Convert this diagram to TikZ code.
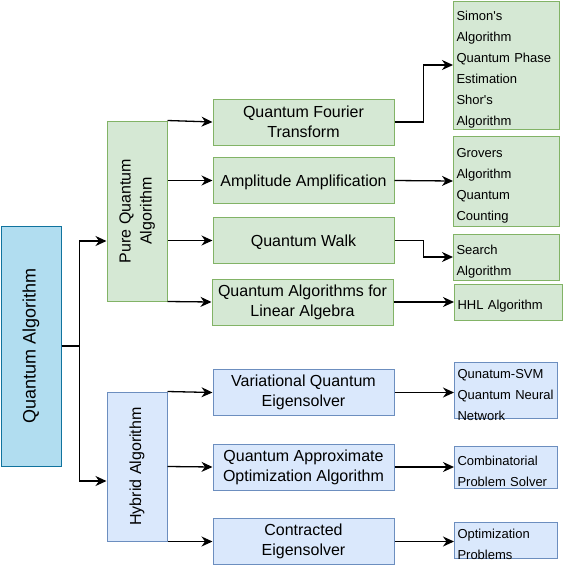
\documentclass[tikz,border=0pt]{standalone}
\usepackage{fontspec}
\setmainfont{Liberation Sans}
\usepackage{graphicx}
\usetikzlibrary{arrows.meta}
\definecolor{rootfill}{HTML}{B1DDF0}
\definecolor{rootline}{HTML}{10739E}
\definecolor{greenfill}{HTML}{D5E8D4}
\definecolor{greenline}{HTML}{82B366}
\definecolor{bluefill}{HTML}{DAE8FC}
\definecolor{blueline}{HTML}{6C8EBF}
\newcommand{\uprot}[1]{\rotatebox{90}{\begin{tabular}{@{}c@{}}#1\end{tabular}}}
\tikzset{
    root/.style={rectangle, minimum width=60pt, minimum height=240pt, inner sep=0pt, draw=rootline, fill=rootfill, line width=1pt, font=\fontsize{18}{22}\selectfont},
    family/.style={rectangle, minimum width=60pt, inner sep=0pt, line width=1pt, font=\fontsize{16}{21}\selectfont},
    method/.style={rectangle, minimum width=181pt, minimum height=46pt, align=center, inner xsep=0pt, inner ysep=-2pt, line width=1pt, font=\fontsize{16}{20}\selectfont, execute at begin node={\rule{0pt}{16pt}}},
    leaf/.style={rectangle, anchor=west, align=left, inner xsep=3pt, inner ysep=-4.5pt, line width=1pt, font=\fontsize{13}{21}\selectfont, execute at begin node={\rule{0pt}{18.5pt}}},
    greenpart/.style={draw=greenline, fill=greenfill},
    bluepart/.style={draw=blueline, fill=bluefill},
    arrow/.style={line width=1.3pt, -{Stealth[length=11pt, width=10pt, inset=3.5pt]}}
}
\begin{document}
\begin{tikzpicture}[x=1pt, y=-1pt]
    \useasboundingbox (0,0) rectangle (563,566);
    \node (main) [root] at (31,346) {\rotatebox{90}{Quantum Algorithm}};
    \node (pure) [family, greenpart, minimum height=180pt] at (137,211) {\uprot{Pure Quantum\\Algorithm}};
    \node (hybrid) [family, bluepart, minimum height=149pt] at (137,466.5) {\uprot{Hybrid Algorithm}};

    \node (qft) [method, greenpart] at (303.5,122) {Quantum Fourier\\Transform};
    \node (amp) [method, greenpart] at (303.5,180.5) {Amplitude Amplification};
    \node (walk) [method, greenpart] at (303.5,240.5) {Quantum Walk};
    \node (linalg) [method, greenpart] at (302.5,302) {Quantum Algorithms for\\Linear Algebra};
    \node (vqe) [method, bluepart] at (303.5,392.5) {Variational Quantum\\Eigensolver};
    \node (qaoa) [method, bluepart] at (303.5,467) {Quantum Approximate\\Optimization Algorithm};
    \node (ces) [method, bluepart] at (303.5,541.5) {Contracted\\Eigensolver};

    \node (simon) [leaf, greenpart, text width=100pt, minimum height=128pt] at (453,65) {Simon\textquotesingle s\\Algorithm\\Quantum Phase\\Estimation\\Shor\textquotesingle s\\Algorithm};
    \node (grovers) [leaf, greenpart, text width=100pt, minimum height=90pt] at (453,181) {Grovers\\Algorithm\\Quantum\\Counting};
    \node (search) [leaf, greenpart, text width=100pt, minimum height=46pt] at (453,257) {Search\\Algorithm};
    \node (hhl) [leaf, greenpart, text width=102pt, minimum height=36pt] at (454,302) {HHL Algorithm};
    \node (svm) [leaf, bluepart, text width=97pt, minimum height=56pt] at (454,390) {Qunatum-SVM\\Quantum Neural\\Network};
    \node (comb) [leaf, bluepart, text width=97pt, minimum height=42pt] at (454,467) {Combinatorial\\Problem Solver};
    \node (optim) [leaf, bluepart, text width=97pt, minimum height=36pt] at (454,540) {Optimization\\Problems};

    \draw [arrow] (main.east) -- ++(18,0) |- ([yshift=-30pt]pure.west);
    \draw [arrow] (main.east) -- ++(18,0) |- ([yshift=-14.5pt]hybrid.west);

    \draw [arrow] (pure.north east) -- (qft.west);
    \draw [arrow] (amp.west -| pure.east) -- (amp.west);
    \draw [arrow] (walk.west -| pure.east) -- (walk.west);
    \draw [arrow] (pure.south east) -- (linalg.west);
    \draw [arrow] (hybrid.north east) -- (vqe.west);
    \draw [arrow] (hybrid.east) -- (qaoa.west);
    \draw [arrow] (hybrid.south east) -- (ces.west);

    \draw [arrow] (qft.east) -- ++(29,0) |- (simon.west);
    \draw [arrow] (amp.east) -- (grovers.west);
    \draw [arrow] (walk.east) -- ++(29,0) |- (search.west);
    \draw [arrow] (linalg.east) -- (hhl.west);
    \draw [arrow] (vqe.east) -- (vqe.east -| svm.west);
    \draw [arrow] (qaoa.east) -- (comb.west);
    \draw [arrow] (ces.east) -- (ces.east -| optim.west);
\end{tikzpicture}
\end{document}
